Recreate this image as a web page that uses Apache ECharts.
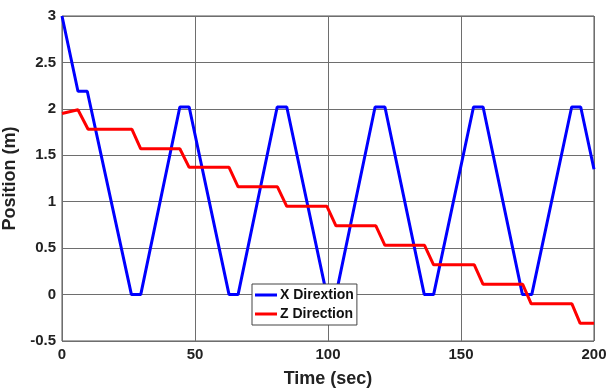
<!DOCTYPE html>
<html>
<head>
<meta charset="utf-8">
<script src="https://cdn.jsdelivr.net/npm/echarts@6/dist/echarts.min.js"></script>
<style>html,body{margin:0;padding:0;background:#fff;}#c{width:610px;height:390px;}</style>
</head>
<body>
<div id="c"></div>
<script>
var xTicks = [0, 50, 100, 150, 200];
var yTicks = [-0.5, 0, 0.5, 1, 1.5, 2, 2.5, 3];

var xDirTime = [0, 6, 9.5, 26.1, 29.6, 44.3, 47.8, 62.8, 66.2, 80.9, 84.5, 99.5, 103, 117.7, 121.4, 136.2, 139.7, 154.7, 158.3, 173.1, 176.6, 191.6, 195, 200];
var xDirPos  = [3, 2.19, 2.19, 0, 0, 2.02, 2.02, 0, 0, 2.02, 2.02, 0, 0, 2.02, 2.02, 0, 0, 2.02, 2.02, 0, 0, 2.02, 2.02, 1.35];

var zDirTime = [0, 6, 9.8, 26.3, 29.6, 44.3, 47.8, 62.8, 66.2, 81, 84.5, 99.6, 103, 118, 121.4, 136.3, 139.7, 155, 158.3, 173.2, 176.4, 191.7, 194.8, 200];
var zDirPos  = [1.95, 1.99, 1.78, 1.78, 1.57, 1.57, 1.37, 1.37, 1.16, 1.16, 0.95, 0.95, 0.74, 0.74, 0.53, 0.53, 0.32, 0.32, 0.11, 0.11, -0.1, -0.1, -0.31, -0.31];

function pairs(t, v) { return t.map(function (x, i) { return [x, v[i]]; }); }

var chart = echarts.init(document.getElementById('c'), null, {renderer: 'canvas'});
chart.setOption({
  animation: false,
  backgroundColor: '#fff',
  grid: {left: 62, right: 16, top: 16, bottom: 49, outerBoundsMode: 'none', containLabel: false,
         show: true, borderColor: '#555', borderWidth: 1, backgroundColor: 'transparent'},
  xAxis: {
    type: 'value', min: xTicks[0], max: xTicks[xTicks.length - 1], interval: 50,
    name: 'Time (sec)', nameLocation: 'middle', nameGap: 29,
    nameTextStyle: {fontFamily: 'Liberation Sans', fontWeight: 'bold', fontSize: 18, color: '#222'},
    axisLine: {show: false}, axisTick: {show: false},
    axisLabel: {fontFamily: 'Liberation Sans', fontWeight: 'bold', fontSize: 15, color: '#222', margin: 6},
    splitLine: {show: true, lineStyle: {color: '#6e6e6e', width: 1}}
  },
  yAxis: {
    type: 'value', min: yTicks[0], max: yTicks[yTicks.length - 1], interval: 0.5,
    name: 'Position (m)', nameLocation: 'middle', nameGap: 36, nameRotate: 90,
    nameTextStyle: {fontFamily: 'Liberation Sans', fontWeight: 'bold', fontSize: 18, color: '#222'},
    axisLine: {show: false}, axisTick: {show: false},
    axisLabel: {fontFamily: 'Liberation Sans', fontWeight: 'bold', fontSize: 15, color: '#222', margin: 6},
    splitLine: {show: true, lineStyle: {color: '#6e6e6e', width: 1}}
  },
  legend: {
    orient: 'vertical', left: 252, top: 284,
    backgroundColor: '#fff', borderColor: '#444', borderWidth: 1,
    padding: [4, 3, 4, 3], itemGap: 5, itemWidth: 22, itemHeight: 3,
    textStyle: {fontFamily: 'Liberation Sans', fontWeight: 'bold', fontSize: 14, color: '#111', padding: [0, 0, 0, -2]},
    data: [{name: 'X Dirextion', icon: 'rect'}, {name: 'Z Direction', icon: 'rect'}]
  },
  series: [
    {name: 'X Dirextion', type: 'line', data: pairs(xDirTime, xDirPos), showSymbol: false, symbol: 'none',
     lineStyle: {color: '#0000ff', width: 3}, itemStyle: {color: '#0000ff'}},
    {name: 'Z Direction', type: 'line', data: pairs(zDirTime, zDirPos), showSymbol: false, symbol: 'none',
     lineStyle: {color: '#ff0000', width: 3}, itemStyle: {color: '#ff0000'}}
  ]
});
</script>
</body>
</html>
